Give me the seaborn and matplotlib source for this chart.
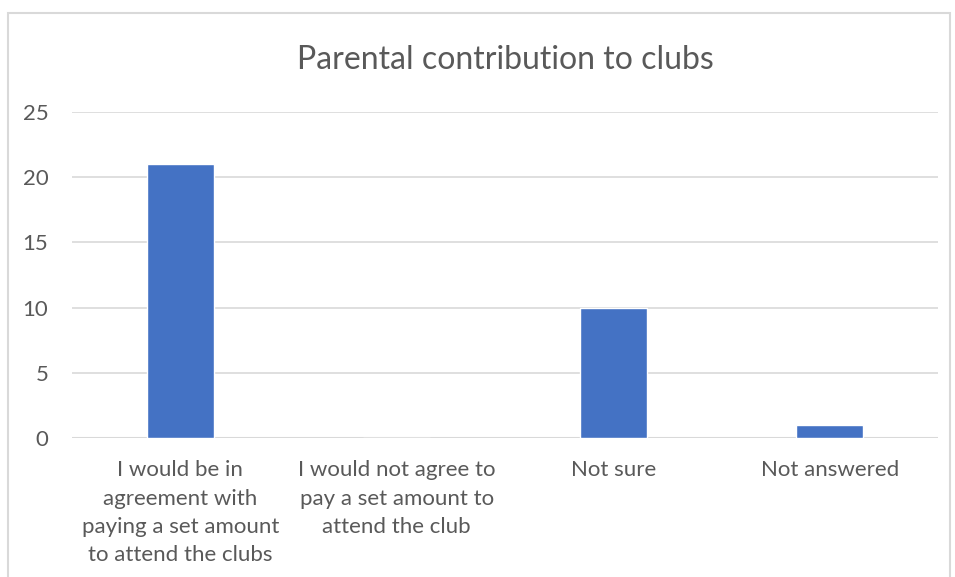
import matplotlib
matplotlib.use("Agg")
import matplotlib.pyplot as plt
import seaborn as sns
import pandas as pd
from matplotlib.patches import Rectangle

categories = [
    "I would be in\nagreement with\npaying a set amount\nto attend the clubs",
    "I would not agree to\npay a set amount to\nattend the club",
    "Not sure",
    "Not answered",
]
values = [21, 0, 10, 1]
yticks = [0, 5, 10, 15, 20, 25]
title = "Parental contribution to clubs"

sns.set_theme(style="white")
plt.rcParams["font.family"] = ["Lato", "DejaVu Sans"]

W, H = 955, 577
fig = plt.figure(figsize=(W / 100, H / 100), dpi=100)
ax = fig.add_axes([72 / W, 1 - 438 / H, (938 - 72) / W, (438 - 112) / H])

df = pd.DataFrame({"cat": categories, "val": values})
sns.barplot(data=df, x="cat", y="val", color="#4472C4", width=0.31, ax=ax,
            saturation=1)

ax.set_ylim(0, 25)
ax.set_yticks(yticks)
ax.set_xlabel("")
ax.set_ylabel("")
for s in ax.spines.values():
    s.set_visible(False)
ax.grid(axis="y", color="#D9D9D9", linewidth=1.2)
ax.set_axisbelow(True)
ax.axhline(0, color="#D9D9D9", linewidth=1.5, zorder=0.5)
ax.tick_params(axis="both", length=0, labelsize=16, colors="#595959")
ax.tick_params(axis="y", pad=17)
ax.tick_params(axis="x", pad=16)
for lab in ax.get_xticklabels():
    lab.set_linespacing(1.52)

fig.text(0.5 * (72 + 938) / W, 1 - 60 / H, title, ha="center", va="center",
         fontsize=23, color="#595959")

fig.patches.append(Rectangle((8 / W, -0.05), (950 - 8) / W, 1.05 - 13 / H,
                             transform=fig.transFigure, fill=False,
                             edgecolor="#D9D9D9", linewidth=1.5))

fig.savefig("out.png", dpi=100)
